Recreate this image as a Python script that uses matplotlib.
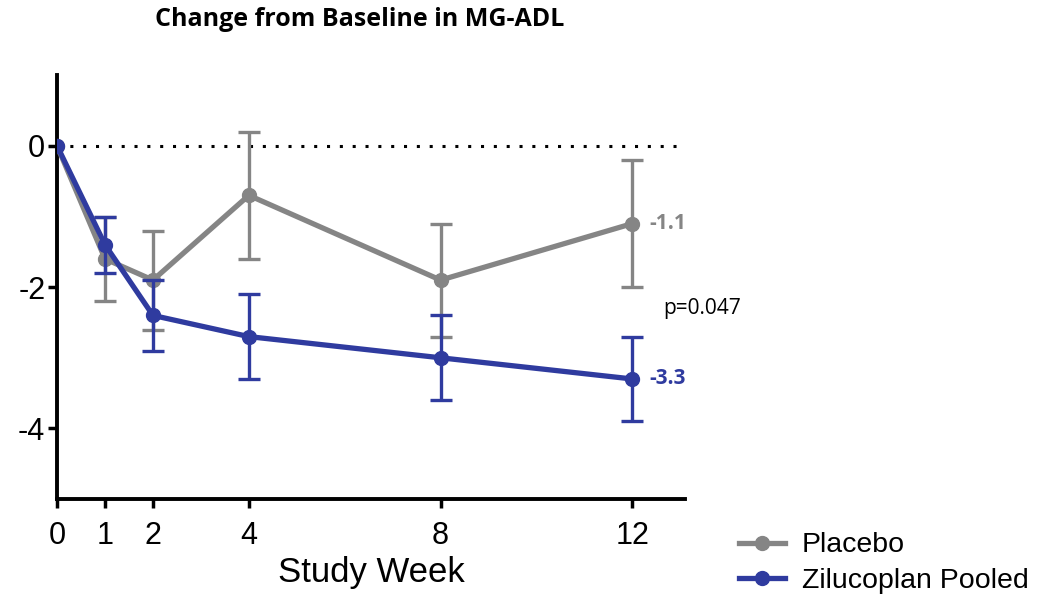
import matplotlib
matplotlib.use("Agg")
import matplotlib.pyplot as plt

# Data
weeks = [0, 1, 2, 4, 8, 12]
placebo = [0, -1.6, -1.9, -0.7, -1.9, -1.1]
placebo_err = [0, 0.6, 0.7, 0.9, 0.8, 0.9]
zilucoplan = [0, -1.4, -2.4, -2.7, -3.0, -3.3]
zilucoplan_err = [0, 0.4, 0.5, 0.6, 0.6, 0.6]
x_ticks = [0, 1, 2, 4, 8, 12]
y_ticks = [0, -2, -4]

gray = "#858585"
blue = "#2f3b9f"

plt.rcParams['font.family'] = ['Liberation Sans', 'DejaVu Sans']
plt.rcParams['axes.unicode_minus'] = False

fig = plt.figure(figsize=(10.38, 6.02), dpi=100)
ax = fig.add_axes([0.055, 0.171, 0.605, 0.704])

ax.axhline(0, color="black", linestyle=(0, (1, 3.2)), linewidth=2.2, zorder=1)

ax.errorbar(weeks[1:], placebo[1:], yerr=placebo_err[1:], fmt="none",
            ecolor=gray, elinewidth=2.4, capsize=8, capthick=2.4, zorder=2)
ax.plot(weeks, placebo, color=gray, linewidth=3.8, marker="o",
        markersize=10, label="Placebo", zorder=3)
ax.errorbar(weeks[1:], zilucoplan[1:], yerr=zilucoplan_err[1:], fmt="none",
            ecolor=blue, elinewidth=2.4, capsize=8, capthick=2.4, zorder=4)
ax.plot(weeks, zilucoplan, color=blue, linewidth=3.8, marker="o",
        markersize=10, label="Zilucoplan Pooled", zorder=5)

ax.text(weeks[-1] + 0.35, placebo[-1], "-1.1", color=gray, fontsize=15,
        fontweight="bold", va="center", ha="left", family="Open Sans")
ax.text(weeks[-1] + 0.35, zilucoplan[-1], "-3.3", color=blue, fontsize=15,
        fontweight="bold", va="center", ha="left", family="Open Sans")
ax.text(12.65, -2.3, "p=0.047", color="black", fontsize=15,
        va="center", ha="left", family="Open Sans")

ax.set_xlim(0, 13.1)
ax.set_ylim(-5, 1)
ax.set_xticks(x_ticks)
ax.set_yticks(y_ticks)
ax.tick_params(axis="both", width=2.5, length=6.5, labelsize=22)
ax.tick_params(axis="x", pad=9)
ax.tick_params(axis="y", pad=2)
for side in ["top", "right"]:
    ax.spines[side].set_visible(False)
for side in ["left", "bottom"]:
    ax.spines[side].set_linewidth(2.8)
ax.set_xlabel("Study Week", fontsize=25, labelpad=4)

fig.suptitle("Change from Baseline in MG-ADL", x=0.347, y=0.988,
             fontsize=18, fontweight="bold", family="Open Sans")

fig.legend(loc="center left", bbox_to_anchor=(0.712, 0.064), frameon=False,
           fontsize=20.5, handlelength=1.6, handletextpad=0.6, labelspacing=0.35,
           borderpad=0, borderaxespad=0)

fig.savefig("out.png", dpi=100)
